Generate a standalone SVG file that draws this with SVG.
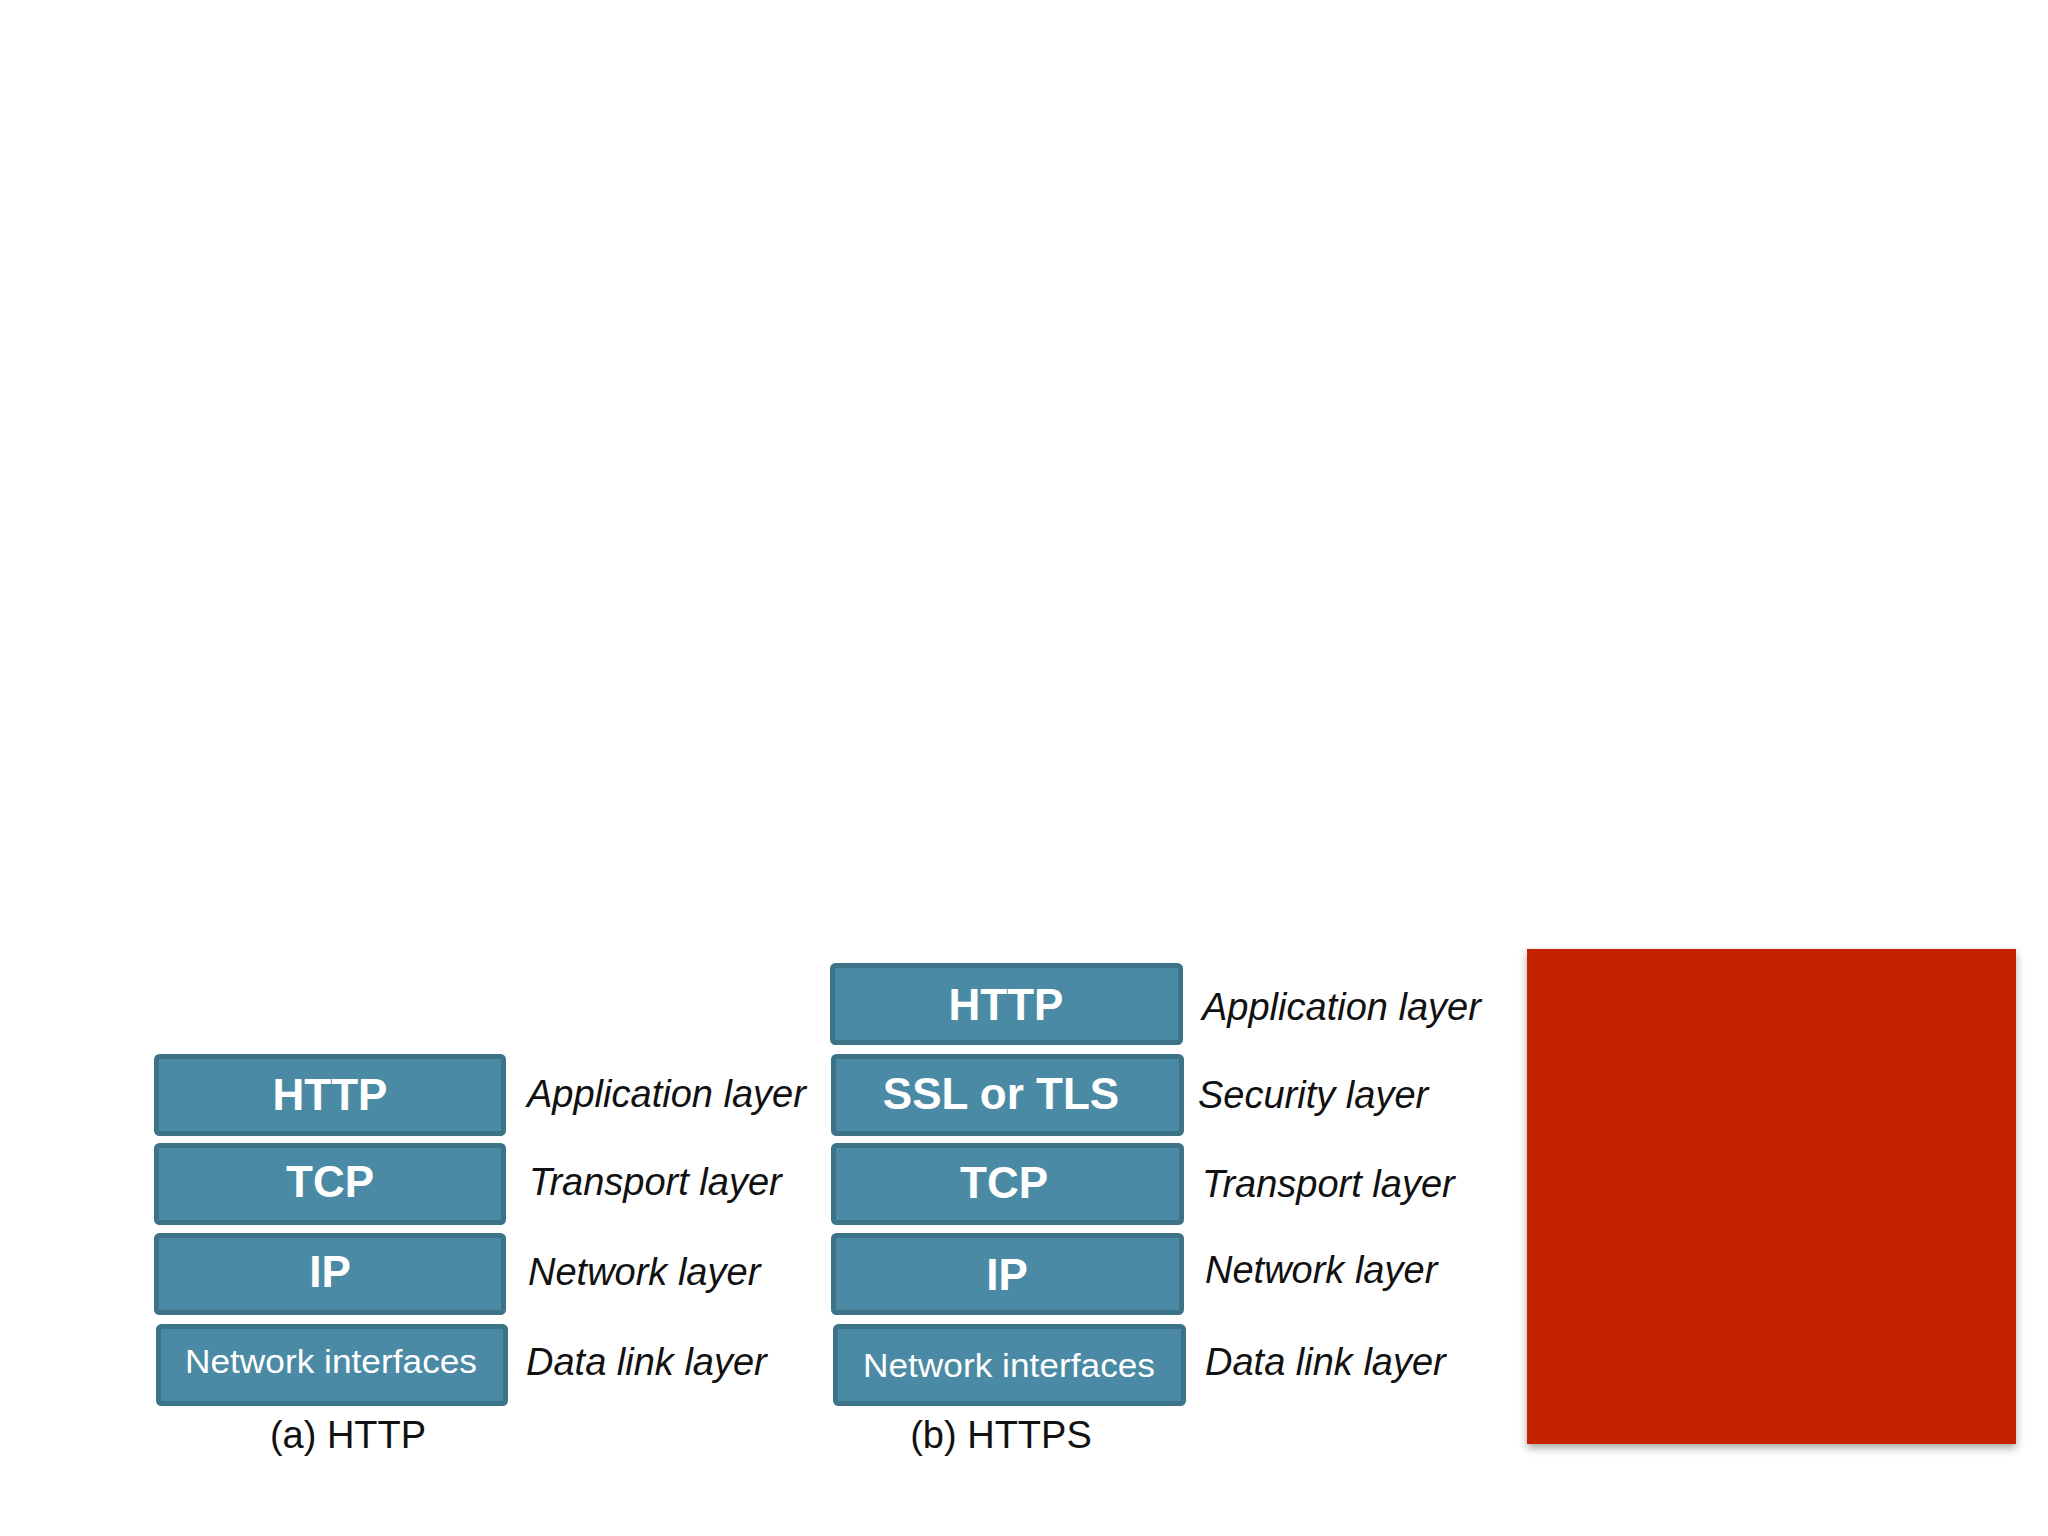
<svg xmlns="http://www.w3.org/2000/svg" width="2048" height="1536" viewBox="0 0 2048 1536">
<defs>
<style>
.box{fill:#4A8AA5;stroke:#3D7387;stroke-width:5}
.bt{font-family:"Liberation Sans",Arial,sans-serif;font-weight:bold;font-size:44px;fill:#ffffff;text-anchor:middle}
.bn{font-family:"Liberation Sans",Arial,sans-serif;font-size:33px;fill:#ffffff;text-anchor:middle}
.lb{font-family:"Liberation Sans",Arial,sans-serif;font-style:italic;font-size:38px;fill:#111111}
.cap{font-family:"Liberation Sans",Arial,sans-serif;font-size:38px;fill:#111111;text-anchor:middle}
</style>
<filter id="sh" x="-10%" y="-10%" width="125%" height="125%">
<feDropShadow dx="0" dy="4" stdDeviation="4" flood-color="#000" flood-opacity="0.35"/>
</filter>
</defs>
<rect width="2048" height="1536" fill="#ffffff"/>
<g id="connectors"></g>
<g id="a-http">
<rect class="box" x="156.5" y="1056.5" width="347" height="77" rx="3"/>
<text class="bt" x="330" y="1110">HTTP</text>
</g>
<g id="a-tcp">
<rect class="box" x="156.5" y="1145.5" width="347" height="77" rx="3"/>
<text class="bt" x="330" y="1197">TCP</text>
</g>
<g id="a-ip">
<rect class="box" x="156.5" y="1235.5" width="347" height="77" rx="3"/>
<text class="bt" x="330" y="1287">IP</text>
</g>
<g id="a-ni">
<rect class="box" x="158.5" y="1326.5" width="347" height="77" rx="3"/>
<text class="bn" x="331" y="1373" textLength="292" lengthAdjust="spacingAndGlyphs">Network interfaces</text>
</g>
<g id="a-labels">
<text class="lb" x="527" y="1107">Application layer</text>
<text class="lb" x="529" y="1195">Transport layer</text>
<text class="lb" x="528" y="1285">Network layer</text>
<text class="lb" x="526" y="1375">Data link layer</text>
<text class="cap" x="348" y="1448">(a) HTTP</text>
</g>
<g id="b-http">
<rect class="box" x="832.5" y="965.5" width="348" height="77" rx="3"/>
<text class="bt" x="1006" y="1020">HTTP</text>
</g>
<g id="b-ssl">
<rect class="box" x="833.5" y="1056.5" width="348" height="77" rx="3"/>
<text class="bt" x="1001" y="1109">SSL or TLS</text>
</g>
<g id="b-tcp">
<rect class="box" x="833.5" y="1145.5" width="348" height="77" rx="3"/>
<text class="bt" x="1004" y="1198">TCP</text>
</g>
<g id="b-ip">
<rect class="box" x="833.5" y="1235.5" width="348" height="77" rx="3"/>
<text class="bt" x="1007" y="1290">IP</text>
</g>
<g id="b-ni">
<rect class="box" x="835.5" y="1326.5" width="348" height="77" rx="3"/>
<text class="bn" x="1009" y="1377" textLength="292" lengthAdjust="spacingAndGlyphs">Network interfaces</text>
</g>
<g id="b-labels">
<text class="lb" x="1202" y="1020">Application layer</text>
<text class="lb" x="1198" y="1108">Security layer</text>
<text class="lb" x="1202" y="1197">Transport layer</text>
<text class="lb" x="1205" y="1283">Network layer</text>
<text class="lb" x="1205" y="1375">Data link layer</text>
<text class="cap" x="1001" y="1448">(b) HTTPS</text>
</g>
<g id="red-block">
<rect x="1527" y="949" width="489" height="495" fill="#C72306" filter="url(#sh)"/>
</g>
</svg>
